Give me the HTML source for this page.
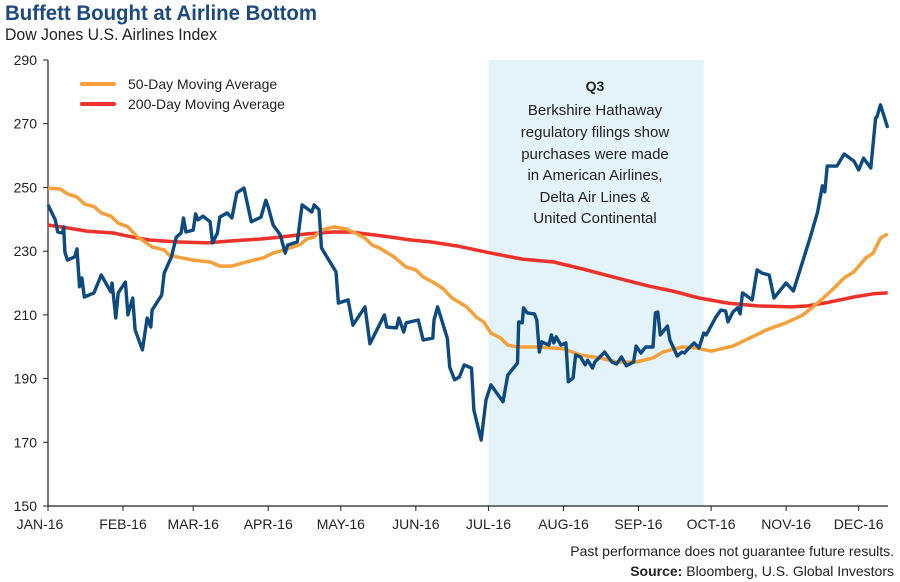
<!DOCTYPE html>
<html><head><meta charset="utf-8">
<style>
body{margin:0;background:#fff;width:900px;height:582px;overflow:hidden;font-family:"Liberation Sans Narrow","Liberation Sans",sans-serif;}
svg{display:block}
</style></head>
<body>
<svg id="chart" width="900" height="582" viewBox="0 0 900 582" xmlns="http://www.w3.org/2000/svg">
<text x="5" y="20" textLength="312" lengthAdjust="spacingAndGlyphs" font-family="Liberation Sans Narrow, Liberation Sans, sans-serif" font-weight="bold" font-size="21" fill="#1d4a7e">Buffett Bought at Airline Bottom</text>
<text x="5" y="40" textLength="212" lengthAdjust="spacingAndGlyphs" font-family="Liberation Sans Narrow, Liberation Sans, sans-serif" font-size="17" fill="#222">Dow Jones U.S. Airlines Index</text>
<g id="shade"></g>
<g id="yaxis"></g>
<g id="xaxis"></g>
<g id="lines"></g>
<g>
<line x1="82" y1="84" x2="114" y2="84" stroke="#f7a03a" stroke-width="4" stroke-linecap="round"/>
<text x="128" y="89" font-size="14" fill="#222">50-Day Moving Average</text>
<line x1="82" y1="104" x2="114" y2="104" stroke="#ee3129" stroke-width="4" stroke-linecap="round"/>
<text x="128" y="109" font-size="14" fill="#222">200-Day Moving Average</text>
</g>
<g font-size="15" fill="#222" text-anchor="middle">
<text x="595" y="91" font-weight="bold" font-size="14">Q3</text>
<text x="595" y="115">Berkshire Hathaway</text>
<text x="595" y="137">regulatory filings show</text>
<text x="595" y="159">purchases were made</text>
<text x="595" y="180">in American Airlines,</text>
<text x="595" y="202">Delta Air Lines &amp;</text>
<text x="595" y="223">United Continental</text>
</g>
<text x="894" y="556" text-anchor="end" font-size="14" fill="#222">Past performance does not guarantee future results.</text>
<text x="894" y="576" text-anchor="end" font-size="14" fill="#222"><tspan font-weight="bold">Source:</tspan> Bloomberg, U.S. Global Investors</text>
</svg>
<script>
const yTicks=[150,170,190,210,230,250,270,290];
const monthLabels=["JAN-16","FEB-16","MAR-16","APR-16","MAY-16","JUN-16","JUL-16","AUG-16","SEP-16","OCT-16","NOV-16","DEC-16"];
const monthStartDays=[0,31,60,91,121,152,182,213,244,274,305,335];
const q3Range=[182,271];
const indexDays=[0,3,4,6,6.5,7,8,11,12,13,14,15,19,22,26,26.5,28,29,32,33,35,36,39,41,42.5,43,47,48,51,53,55,56,57,60,61,62,64,67,68,70,71,74,76,78,81,84,88,90,91,93,96,98,99,103,105,109,110,112,113,119,120,124,126,131,133,139,140,144,145,147,148,153,155,159,159.5,161,165,166,168,170,172,175,176,179,181,183,188,190,194,194.5,196,196.5,198,201,202,203,204,207,208,209,210,212,214,215,217,218,220,222,223,225,226,230,233,235,237,239,242,243,245,247,250,251,252,253,256,257,260,262,263,264,267,269,271,272,276,278,280,281,283,285,286,287,291,293,295,298,300,305,308,315,318,320,321,322,326,329,333,335,337,340,342,342.5,344,347];
const indexValues=[244.5,239.8,236,235.7,237.6,229.7,227.2,228.2,230.7,218.8,221.6,215.6,216.9,222.5,217.2,220,209,216.9,220.3,210,215.3,205.3,199,209,206.2,211.5,216.2,223.1,228.2,234.4,235.7,240.4,236,236.6,241.7,239.8,241,239.2,232.6,235.7,240.7,242,240.4,248.3,249.8,239.2,240.7,246,243.9,238.2,235.1,229.4,231.9,232.9,244.5,242.3,244.5,243,231,223.5,213.7,214.7,206.8,212.5,200.9,210,206.2,205.9,209,204.6,207.5,208.4,202.1,202.7,208.4,212.5,202.7,193.6,189.6,190.5,194.3,193.3,180.1,170.7,183.3,188,182.7,191.1,194.9,207.8,207.5,212.2,210.6,210.3,208.4,198.3,201.5,200.5,203.7,201.2,203.1,200.5,201.2,189,190.2,197.4,196.8,194.3,195.8,193.3,195.2,198.3,195.2,194.6,196.8,194,195.2,200.2,198,199.9,199.9,210.6,210.9,203.7,206.5,202.1,197.1,198.3,198,198.9,201.2,199.6,204.3,203.7,209.3,211.5,211.2,207.8,210.9,212.2,210.3,216.9,214.7,224.1,223.1,222.5,215.3,220,217.5,234.4,242.3,250.5,248.6,256.7,256.7,260.5,258.3,255.5,259.2,256.1,271.8,272.1,275.9,268.7];
const ma50Days=[0,5,8,12,15,19,22,26,29,33,37,39,43,48,50,55,60,67,71,76,82,89,93,96,100,104,107,110,113,118,123,127,131,134,137,143,148,152,155,159,163,167,173,177,180,183,187,190,194,203,213,220,228,235,243,250,254,262,268,274,283,290,297,305,312,318,324,329,333,338,341,344,347];
const ma50Values=[249.8,249.5,248,247,244.8,244,242,241,238.8,237.6,234.4,233.5,231.3,230.4,228.8,227.9,227.2,226.6,225.3,225.3,226.6,227.9,229.4,230,231,232,233.8,234.4,236.6,237.6,237,235.7,234.1,231.9,231,228.2,225,224.1,221.9,220.3,218.4,215.3,212.5,209.3,207.8,204.3,202.7,200.5,199.9,199.9,199.3,197.4,196.5,195.2,195.2,196.5,198.3,199.9,199.6,198.6,200.2,202.7,205.3,207.5,210,213.7,217.8,221.6,223.5,227.9,229.4,234.1,235.4];
const ma200Days=[0,8,16,27,35,42,53,66,76,88,96,107,118,125,138,150,158,170,183,196,209,221,235,248,258,269,281,293,307,314,323,333,341,347];
const ma200Values=[238.2,237.3,236.3,235.7,234.4,233.5,232.9,232.6,233.2,233.8,234.4,235.4,236,236,234.8,233.5,232.9,231.5,229.4,227.5,226.6,224.4,221.6,219.1,217.5,215.3,213.7,212.8,212.5,212.8,214,215.6,216.6,216.9];

const NS="http://www.w3.org/2000/svg";
const X0=48,PXD=2.42,Y0=506,Y1=60,VMIN=150,VMAX=290,XEND=888;
function xs(d){return X0+d*PXD;}
function ys(v){return Y0-(v-VMIN)/(VMAX-VMIN)*(Y0-Y1);}
function mk(tag,attrs,parent){const e=document.createElementNS(NS,tag);for(const k in attrs)e.setAttribute(k,attrs[k]);parent.appendChild(e);return e;}

const shade=document.getElementById('shade');
const sr=mk('rect',{x:xs(q3Range[0]),y:Y1,width:xs(q3Range[1])-xs(q3Range[0]),height:Y0-Y1,fill:'#e4f3fa'},shade);



const ya=document.getElementById('yaxis');
const yl=mk('line',{x1:X0,y1:Y1,x2:X0,y2:Y0,stroke:'#222','stroke-width':1.2},ya);


yTicks.forEach(v=>{
  const t=mk('line',{x1:X0-5,y1:ys(v),x2:X0,y2:ys(v),stroke:'#222','stroke-width':1},ya);
  
  
  const tx=mk('text',{x:X0-11,y:ys(v)+5,'text-anchor':'end','font-size':14,fill:'#222'},ya);
  tx.textContent=v;
  
  
});
const xa=document.getElementById('xaxis');
const xl=mk('line',{x1:X0,y1:Y0,x2:XEND,y2:Y0,stroke:'#222','stroke-width':1.2},xa);


monthLabels.forEach((m,i)=>{
  const x=xs(monthStartDays[i]);
  const t=mk('line',{x1:x,y1:Y0,x2:x,y2:Y0+5,stroke:'#222','stroke-width':1},xa);
  
  
  const tx=mk('text',{x:i===0?x-8:x,y:529,'text-anchor':'middle','font-size':14,fill:'#222'},xa);
  tx.textContent=m;
  
  
});
const lines=document.getElementById('lines');
function path(days,vals){return days.map((d,i)=>(i?'L':'M')+xs(d).toFixed(1)+','+ys(vals[i]).toFixed(1)).join('');}
const p200=mk('path',{d:path(ma200Days,ma200Values),fill:'none',stroke:'#ee3129','stroke-width':3.5,'stroke-linejoin':'round'},lines);


const p50=mk('path',{d:path(ma50Days,ma50Values),fill:'none',stroke:'#f7a03a','stroke-width':3.5,'stroke-linejoin':'round'},lines);


const pIdx=mk('path',{d:path(indexDays,indexValues),fill:'none',stroke:'#0d4a80','stroke-width':3.4,'stroke-linejoin':'round'},lines);


</script>
</body></html>
